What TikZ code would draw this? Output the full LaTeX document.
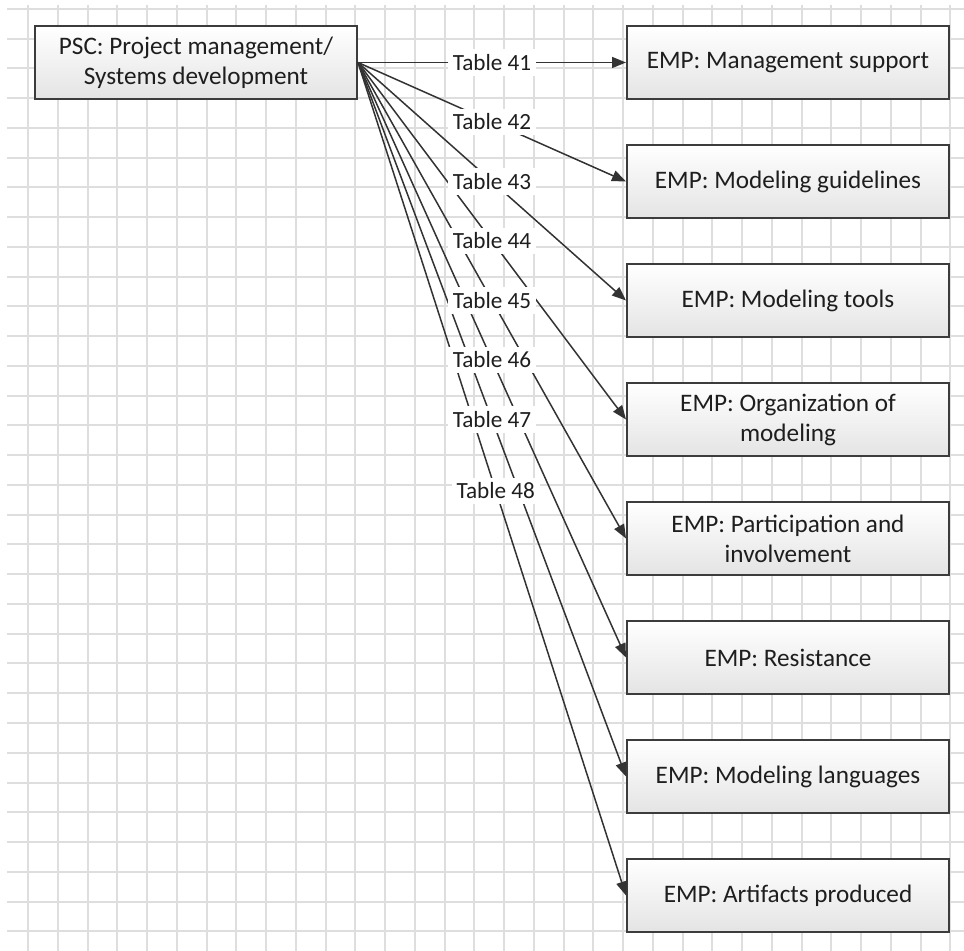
\documentclass[tikz,border=0pt]{standalone}
\usepackage{fontspec}
\setmainfont{Carlito}
\definecolor{GridGray}{RGB}{222,222,222}
\definecolor{LineGray}{RGB}{51,51,51}
\definecolor{BoxEdge}{RGB}{60,60,60}
\definecolor{BoxShade}{RGB}{228,228,228}
\definecolor{TextGray}{RGB}{30,30,30}
\usetikzlibrary{positioning,arrows.meta}

\begin{document}
\begin{tikzpicture}[x=0.5pt, y=-0.5pt,
      every node/.style={align=center, text=TextGray},
      gridline/.style={draw=GridGray, line width=1pt},
      box/.style={draw=BoxEdge, line width=1pt, top color=white, bottom color=BoxShade, minimum width=161pt, minimum height=36.5pt, inner sep=2pt, font=\fontsize{12.6}{15}\selectfont},
      emp/.style={box, below=22pt of #1},
      tab/.style={fill=white, inner sep=2.5pt, font=\fontsize{11.6}{13.5}\selectfont},
      arr/.style={-{Triangle[length=7pt,width=5.5pt]}, draw=LineGray, line width=0.75pt}
  ]
    \useasboundingbox (0,0) rectangle (964,951);
    \foreach \k in {0,...,31} {
      \draw[gridline] ({28+29.75*\k},5) -- ({28+29.75*\k},951);
      \draw[gridline] (7,{9+29.75*\k}) -- (964,{9+29.75*\k});
    }
    \node[box] (psc) at (196,62.5) {PSC: Project management/\\Systems development};
    \node[box, right=134pt of psc] (e1) {EMP: Management support};
    \node[emp=e1] (e2) {EMP: Modeling guidelines};
    \node[emp=e2] (e3) {EMP: Modeling tools};
    \node[emp=e3] (e4) {EMP: Organization of\\modeling};
    \node[emp=e4] (e5) {EMP: Participation and\\involvement};
    \node[emp=e5] (e6) {EMP: Resistance};
    \node[emp=e6] (e7) {EMP: Modeling languages};
    \node[emp=e7] (e8) {EMP: Artifacts produced};
    \foreach \i in {1,...,8}
      \draw[arr] (psc.east) -- (e\i.west);
    \foreach \i/\n/\p in {1/41/0.5, 2/42/0.5, 3/43/0.5, 4/44/0.5, 5/45/0.5, 6/46/0.5, 7/47/0.5, 8/48/0.514}
      \path (psc.east) -- (e\i.west) node[tab, pos=\p] (t\i) {Table \n};
  \end{tikzpicture}
\end{document}
